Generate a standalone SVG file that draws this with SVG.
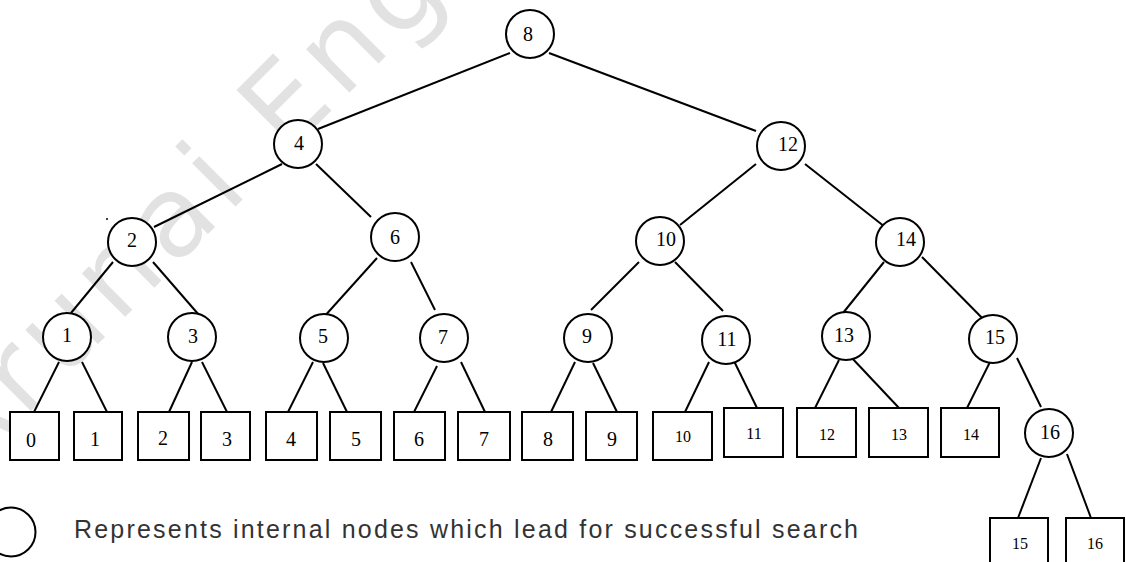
<svg xmlns="http://www.w3.org/2000/svg" width="1126" height="562" viewBox="0 0 1126 562">
<style>
.n{fill:#fff;stroke:#000;stroke-width:2}
.b{fill:#fff;stroke:#000;stroke-width:2}
.e line{stroke:#000;stroke-width:2}
.t{font-family:"Liberation Serif","Times New Roman",serif;font-size:20px;fill:#000;text-anchor:middle}
.s{font-size:16px}
.wm{font-family:"DejaVu Sans",sans-serif;font-size:112px;letter-spacing:8px;fill:#e2e2e2}
.lg{font-family:"Liberation Sans",Arial,sans-serif;font-size:25px;fill:#333}
</style>
<rect width="1126" height="562" fill="#fff"/>
<text class="wm" transform="translate(-36,478) rotate(-45)">Arunai Eng</text>
<g id="edges" class="e">
<line x1="510" y1="53" x2="318" y2="129"/>
<line x1="549" y1="53" x2="756" y2="131"/>
<line x1="282" y1="164" x2="154" y2="227"/>
<line x1="316" y1="164" x2="371" y2="217"/>
<line x1="756" y1="164" x2="680" y2="225"/>
<line x1="805" y1="164" x2="885" y2="227"/>
<line x1="113" y1="262" x2="71" y2="313"/>
<line x1="153" y1="262" x2="199" y2="315"/>
<line x1="377" y1="258" x2="323" y2="318"/>
<line x1="411" y1="262" x2="435" y2="310"/>
<line x1="639" y1="262" x2="591" y2="310"/>
<line x1="675" y1="262" x2="723" y2="311"/>
<line x1="884" y1="262" x2="843" y2="313"/>
<line x1="922" y1="257" x2="992" y2="328"/>
<line x1="59" y1="362" x2="34" y2="412"/>
<line x1="82" y1="362" x2="107" y2="412"/>
<line x1="192" y1="362" x2="169" y2="412"/>
<line x1="202" y1="362" x2="227" y2="412"/>
<line x1="313" y1="362" x2="288" y2="412"/>
<line x1="323" y1="363" x2="347" y2="412"/>
<line x1="437" y1="366" x2="413" y2="414"/>
<line x1="461" y1="362" x2="485" y2="412"/>
<line x1="575" y1="362" x2="551" y2="412"/>
<line x1="593" y1="363" x2="617" y2="412"/>
<line x1="709" y1="362" x2="685" y2="412"/>
<line x1="733" y1="359" x2="757" y2="408"/>
<line x1="839" y1="360" x2="815" y2="408"/>
<line x1="851" y1="357" x2="899" y2="408"/>
<line x1="991" y1="360" x2="967" y2="408"/>
<line x1="1017" y1="358" x2="1041" y2="407"/>
<line x1="1041" y1="458" x2="1018" y2="518"/>
<line x1="1067" y1="454" x2="1091" y2="518"/>
</g>
<g id="node-8"><circle class="n" cx="530" cy="34" r="24"/><text class="t" x="528" y="41">8</text></g>
<g id="node-4"><circle class="n" cx="298" cy="144" r="24"/><text class="t" x="299" y="150">4</text></g>
<g id="node-12"><circle class="n" cx="781" cy="146" r="24"/><text class="t" x="788" y="151">12</text></g>
<g id="node-2"><circle class="n" cx="132" cy="242" r="24"/><text class="t" x="132" y="247">2</text></g>
<g id="node-6"><circle class="n" cx="395" cy="237" r="24"/><text class="t" x="395" y="244">6</text></g>
<g id="node-10"><circle class="n" cx="660" cy="241" r="24"/><text class="t" x="666" y="246">10</text></g>
<g id="node-14"><circle class="n" cx="900" cy="242" r="24"/><text class="t" x="906" y="246">14</text></g>
<g id="node-1"><circle class="n" cx="67" cy="337" r="24"/><text class="t" x="67" y="342">1</text></g>
<g id="node-3"><circle class="n" cx="192" cy="337" r="24"/><text class="t" x="193" y="343">3</text></g>
<g id="node-5"><circle class="n" cx="324" cy="338" r="24"/><text class="t" x="323" y="343">5</text></g>
<g id="node-7"><circle class="n" cx="444" cy="338" r="24"/><text class="t" x="443" y="344">7</text></g>
<g id="node-9"><circle class="n" cx="588" cy="338" r="24"/><text class="t" x="587" y="343">9</text></g>
<g id="node-11"><circle class="n" cx="726" cy="340" r="24"/><text class="t" x="727" y="346">11</text></g>
<g id="node-13"><circle class="n" cx="846" cy="336" r="24"/><text class="t" x="844" y="342">13</text></g>
<g id="node-15"><circle class="n" cx="993" cy="339" r="24"/><text class="t" x="995" y="344">15</text></g>
<g id="node-16"><circle class="n" cx="1049" cy="433" r="24"/><text class="t" x="1050" y="439">16</text></g>
<g id="leaf-0"><rect class="b" x="10" y="412" width="49" height="48"/><text class="t" x="31" y="447">0</text></g>
<g id="leaf-1"><rect class="b" x="74" y="412" width="48" height="48"/><text class="t" x="95" y="446">1</text></g>
<g id="leaf-2"><rect class="b" x="138" y="412" width="51" height="48"/><text class="t" x="163" y="445">2</text></g>
<g id="leaf-3"><rect class="b" x="201" y="412" width="49" height="48"/><text class="t" x="227" y="446">3</text></g>
<g id="leaf-4"><rect class="b" x="266" y="412" width="51" height="48"/><text class="t" x="291" y="446">4</text></g>
<g id="leaf-5"><rect class="b" x="330" y="412" width="51" height="48"/><text class="t" x="356" y="446">5</text></g>
<g id="leaf-6"><rect class="b" x="394" y="412" width="51" height="48"/><text class="t" x="419" y="446">6</text></g>
<g id="leaf-7"><rect class="b" x="458" y="412" width="52" height="48"/><text class="t" x="484" y="446">7</text></g>
<g id="leaf-8"><rect class="b" x="522" y="412" width="51" height="48"/><text class="t" x="548" y="446">8</text></g>
<g id="leaf-9"><rect class="b" x="586" y="412" width="51" height="48"/><text class="t" x="612" y="446">9</text></g>
<g id="leaf-10"><rect class="b" x="653" y="412" width="59" height="48"/><text class="t s" x="683" y="442">10</text></g>
<g id="leaf-11"><rect class="b" x="724" y="408" width="59" height="49"/><text class="t s" x="754" y="439">11</text></g>
<g id="leaf-12"><rect class="b" x="797" y="408" width="59" height="49"/><text class="t s" x="827" y="440">12</text></g>
<g id="leaf-13"><rect class="b" x="869" y="408" width="59" height="49"/><text class="t s" x="899" y="440">13</text></g>
<g id="leaf-14"><rect class="b" x="941" y="408" width="58" height="49"/><text class="t s" x="971" y="440">14</text></g>
<g id="leaf-15"><rect class="b" x="990" y="518" width="58" height="50"/><text class="t s" x="1020" y="549">15</text></g>
<g id="leaf-16"><rect class="b" x="1066" y="518" width="58" height="50"/><text class="t s" x="1095" y="549">16</text></g>
<circle cx="107" cy="219" r="1" fill="#000"/>
<g id="legend">
<circle class="n" cx="11" cy="532" r="24.5"/>
<text class="lg" x="74" y="538" textLength="784" lengthAdjust="spacing">Represents internal nodes which lead for successful search</text>
</g>
</svg>
